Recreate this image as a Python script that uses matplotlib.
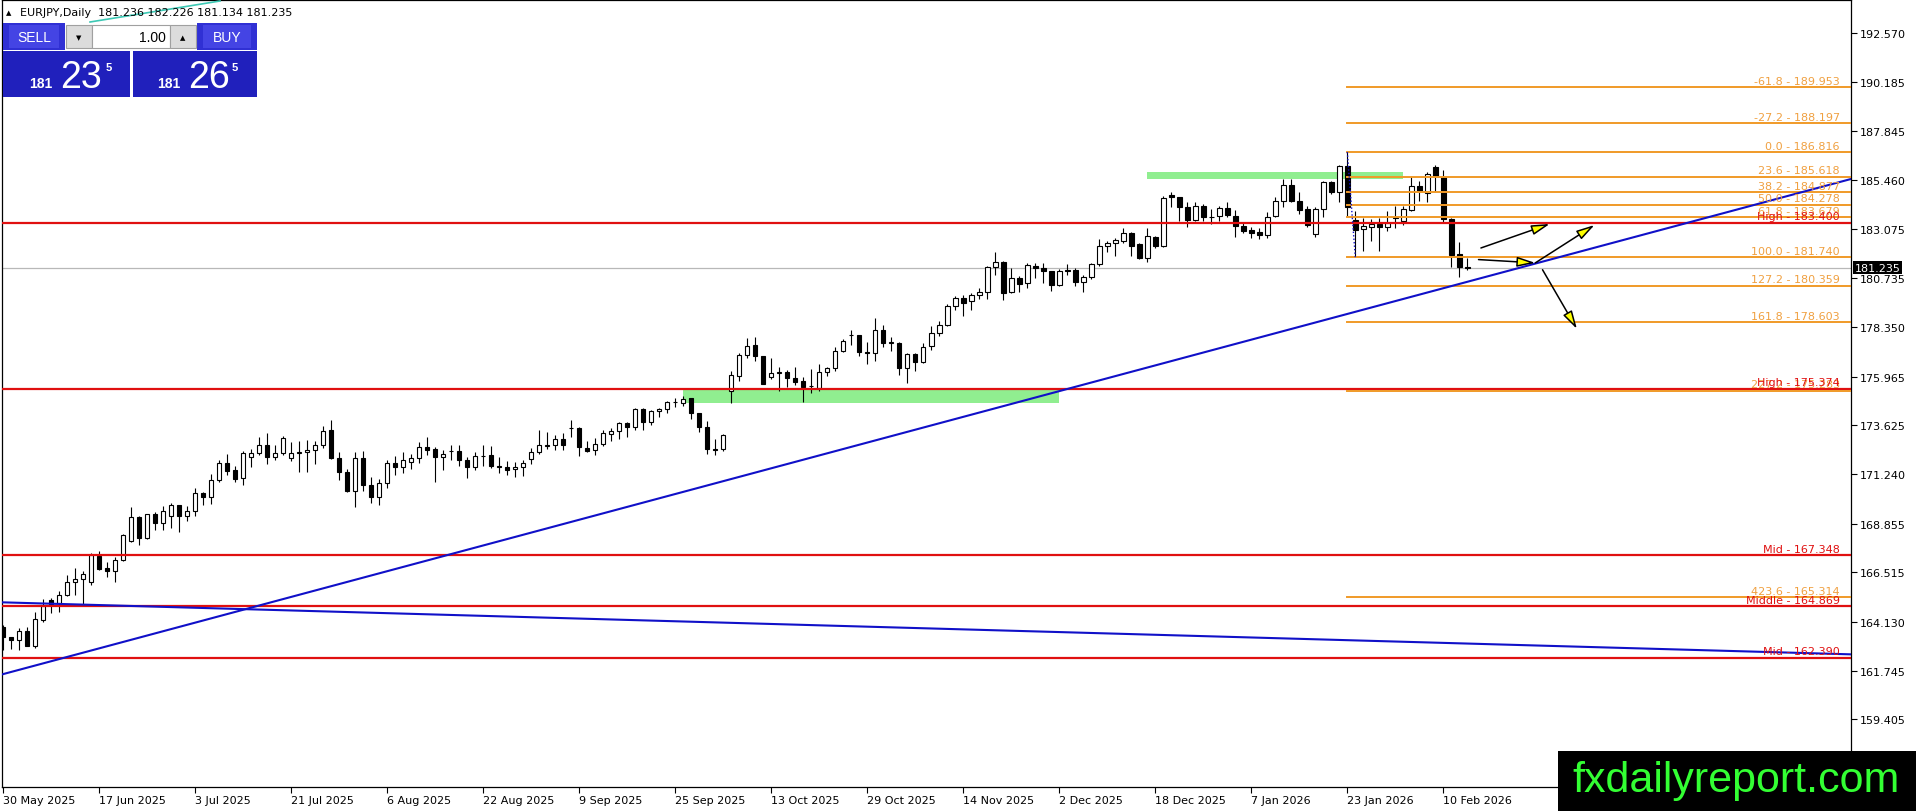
import matplotlib
matplotlib.use("Agg")
import matplotlib.pyplot as plt
import matplotlib.transforms as mtransforms
from matplotlib.patches import Rectangle

# EURJPY daily bars, 30 May 2025 .. 13 Feb 2026
opens = [
    163.89, 163.37, 163.23, 163.69, 162.97, 164.23, 165.19, 165.03, 165.43, 166.03, 166.19, 166.03,
    167.32, 166.72, 166.56, 167.11, 168.04, 169.20, 168.19, 169.33, 168.88, 169.22, 169.77, 169.25,
    169.46, 170.33, 170.14, 170.96, 171.79, 171.46, 171.05, 172.07, 172.26, 172.66, 172.07, 172.28,
    172.02, 172.28, 172.31, 172.42, 172.66, 173.39, 172.05, 171.34, 170.46, 172.04, 170.73, 170.14,
    170.83, 171.78, 171.59, 171.83, 172.04, 172.55, 172.47, 172.07, 172.39, 172.36, 171.94, 171.59,
    172.12, 172.18, 171.63, 171.60, 171.51, 171.60, 171.97, 172.31, 172.63, 172.65, 172.94, 173.47,
    173.49, 172.52, 172.41, 172.70, 173.18, 173.32, 173.74, 173.55, 174.39, 173.76, 174.31, 174.39,
    174.73, 174.69, 174.92, 174.19, 173.52, 172.47, 172.47, 175.29, 176.01, 177.01, 177.50, 176.95,
    175.93, 176.13, 176.18, 175.89, 175.74, 175.52, 175.42, 176.18, 176.37, 177.19, 177.96, 177.98,
    177.14, 177.11, 178.22, 177.61, 177.59, 176.37, 177.06, 176.66, 177.46, 178.06, 178.48, 179.40,
    179.75, 179.61, 179.91, 180.04, 181.25, 181.52, 180.04, 180.72, 180.47, 181.33, 181.20, 181.05,
    180.41, 181.13, 181.14, 180.52, 180.76, 181.41, 182.29, 182.41, 182.54, 182.89, 182.38, 181.68,
    182.73, 182.29, 184.74, 184.63, 184.15, 183.55, 184.23, 183.70, 183.71, 184.10, 183.71, 183.23,
    183.04, 182.94, 182.83, 183.74, 184.44, 185.23, 184.44, 184.07, 182.86, 184.07, 185.39, 184.87,
    186.16, 183.53, 183.10, 183.18, 183.34, 183.18, 183.63, 183.50, 184.03, 185.19, 184.84, 186.08,
    185.63, 183.58, 181.89, 181.236,
]
highs = [
    163.97, 163.40, 163.84, 163.86, 164.58, 165.22, 165.26, 165.61, 166.38, 166.71, 166.56, 167.45,
    167.56, 167.03, 167.24, 168.36, 169.69, 169.22, 169.35, 169.41, 169.73, 169.86, 169.78, 169.73,
    170.57, 170.38, 171.26, 171.96, 172.23, 171.67, 172.39, 172.47, 173.03, 173.23, 172.66, 173.08,
    172.79, 172.87, 172.91, 172.87, 173.60, 173.87, 172.31, 171.50, 172.34, 172.39, 171.10, 171.02,
    171.94, 172.15, 172.31, 172.23, 172.83, 173.04, 172.55, 172.42, 172.66, 172.66, 172.07, 172.34,
    172.66, 172.63, 172.07, 171.91, 171.83, 171.96, 172.52, 173.41, 173.28, 173.15, 173.23, 173.87,
    173.55, 172.84, 173.00, 173.41, 173.47, 173.79, 173.79, 174.44, 174.44, 174.36, 174.47, 174.77,
    174.92, 175.02, 174.95, 174.21, 173.81, 172.95, 173.18, 176.26, 177.09, 177.83, 177.87, 176.98,
    176.87, 176.45, 176.29, 176.45, 175.97, 176.34, 176.56, 176.42, 177.38, 177.79, 178.22, 178.00,
    177.62, 178.78, 178.46, 177.90, 177.62, 177.09, 177.09, 177.58, 178.40, 178.67, 179.48, 179.88,
    179.91, 180.01, 180.23, 181.33, 181.97, 181.57, 181.20, 180.81, 181.44, 181.46, 181.44, 181.09,
    181.17, 181.41, 181.20, 180.88, 181.44, 182.62, 182.54, 182.66, 183.13, 182.94, 182.41, 183.13,
    182.78, 184.71, 184.87, 184.65, 184.42, 184.39, 184.31, 184.07, 184.23, 184.42, 184.02, 183.42,
    183.18, 183.15, 183.90, 184.63, 185.52, 185.52, 184.90, 184.23, 184.15, 185.43, 185.43, 186.19,
    186.82, 183.99, 183.61, 183.58, 183.63, 183.99, 184.23, 184.23, 185.64, 185.43, 185.84, 186.19,
    185.95, 183.61, 182.46, 181.70,
]
lows = [
    162.78, 162.81, 162.78, 162.95, 162.84, 164.10, 164.55, 164.58, 165.39, 165.42, 164.95, 165.90,
    166.64, 166.27, 166.03, 167.08, 167.96, 167.85, 168.11, 168.57, 168.57, 168.67, 168.45, 169.01,
    169.25, 169.77, 169.83, 170.89, 171.22, 170.89, 170.73, 171.62, 172.20, 171.75, 171.96, 172.18,
    171.91, 171.34, 171.34, 171.75, 172.50, 171.99, 170.97, 170.38, 169.69, 170.46, 169.86, 169.78,
    170.57, 171.23, 171.30, 171.51, 171.80, 172.18, 170.89, 171.47, 171.96, 171.63, 171.05, 171.47,
    171.63, 171.54, 171.30, 171.23, 171.10, 171.18, 171.75, 172.23, 172.47, 172.42, 172.42, 173.04,
    172.12, 172.31, 172.18, 172.63, 172.84, 172.95, 173.04, 173.41, 173.41, 173.65, 174.00, 174.19,
    174.48, 174.53, 173.92, 173.28, 172.23, 172.20, 172.39, 174.69, 175.77, 176.85, 176.71, 175.59,
    175.85, 175.29, 175.45, 175.56, 174.76, 175.18, 175.29, 176.01, 176.26, 177.14, 177.50, 176.98,
    176.58, 176.74, 177.38, 177.19, 176.05, 175.64, 176.22, 176.61, 177.25, 177.95, 178.40, 179.19,
    178.91, 179.20, 179.72, 179.72, 180.89, 179.67, 180.01, 180.04, 180.23, 180.72, 180.47, 180.09,
    180.36, 180.88, 180.33, 180.04, 180.68, 181.33, 181.97, 181.81, 182.42, 181.78, 181.65, 181.52,
    182.17, 182.21, 184.18, 183.50, 183.21, 183.50, 183.50, 183.34, 183.50, 183.70, 182.73, 182.91,
    182.65, 182.62, 182.65, 183.70, 184.18, 184.39, 183.82, 183.18, 182.73, 183.66, 184.79, 184.39,
    183.71, 181.74, 182.05, 182.54, 182.02, 183.02, 183.13, 183.29, 183.99, 184.47, 184.39, 184.87,
    183.39, 181.25, 180.80, 181.13,
]
closes = [
    163.41, 163.23, 163.66, 162.97, 164.24, 164.87, 164.98, 165.43, 166.03, 166.17, 166.43, 167.35,
    166.67, 166.56, 167.12, 168.32, 169.17, 168.19, 169.33, 168.88, 169.46, 169.77, 169.25, 169.46,
    170.33, 170.14, 170.96, 171.79, 171.42, 171.02, 172.28, 172.28, 172.66, 172.07, 172.28, 173.00,
    172.28, 172.31, 172.42, 172.66, 173.32, 172.04, 171.34, 170.46, 172.04, 170.73, 170.14, 170.83,
    171.78, 171.59, 171.94, 172.04, 172.55, 172.44, 172.07, 172.23, 172.36, 171.94, 171.59, 172.12,
    172.15, 171.63, 171.60, 171.47, 171.60, 171.78, 172.31, 172.65, 172.65, 172.94, 172.68, 173.50,
    172.55, 172.39, 172.70, 173.23, 173.32, 173.74, 173.55, 174.39, 173.76, 174.31, 174.40, 174.73,
    174.76, 174.87, 174.19, 173.52, 172.47, 172.44, 173.15, 176.05, 177.01, 177.46, 176.95, 175.61,
    176.13, 176.17, 175.89, 175.72, 175.45, 175.49, 176.18, 176.37, 177.19, 177.67, 177.99, 177.14,
    177.09, 178.22, 177.61, 177.62, 176.37, 177.06, 176.66, 177.38, 178.06, 178.48, 179.40, 179.75,
    179.51, 179.91, 180.04, 181.25, 181.49, 179.99, 180.72, 180.44, 181.36, 181.20, 181.05, 180.41,
    181.09, 181.09, 180.52, 180.76, 181.41, 182.29, 182.41, 182.57, 182.89, 182.29, 181.68, 182.75,
    182.29, 184.58, 184.63, 184.15, 183.55, 184.23, 183.70, 183.68, 184.10, 183.78, 183.23, 183.02,
    182.91, 182.83, 183.66, 184.47, 185.23, 184.44, 184.03, 183.29, 184.07, 185.35, 184.87, 186.13,
    184.15, 183.07, 183.23, 183.34, 183.18, 183.39, 183.66, 184.07, 185.19, 184.95, 185.76, 185.68,
    183.58, 181.84, 181.25, 181.235,
]

date_labels = ["30 May 2025", "17 Jun 2025", "3 Jul 2025", "21 Jul 2025", "6 Aug 2025",
               "22 Aug 2025", "9 Sep 2025", "25 Sep 2025", "13 Oct 2025", "29 Oct 2025",
               "14 Nov 2025", "2 Dec 2025", "18 Dec 2025", "7 Jan 2026", "23 Jan 2026",
               "10 Feb 2026"]
date_step = 12

# 157.020 sits under the watermark box in the screenshot, so it is left out
price_ticks = [192.570, 190.185, 187.845, 185.460, 183.075, 180.735, 178.350, 175.965,
               173.625, 171.240, 168.855, 166.515, 164.130, 161.745, 159.405]

last_price = 181.235
header = "EURJPY,Daily  181.236 182.226 181.134 181.235"

# fibonacci levels drawn from the 186.816 high to the 181.740 low
fib_levels = [189.953, 188.197, 186.816, 185.618, 184.877, 184.278, 183.679,
              181.740, 180.359, 178.603, 175.283, 165.314]
fib_names = ["-61.8", "-27.2", "0.0", "23.6", "38.2", "50.0", "61.8",
             "100.0", "127.2", "161.8", "227.2", "423.6"]
fib_start = 168

red_levels = [183.400, 175.374, 167.348, 164.869, 162.390]
red_names = ["High", "High", "Mid", "Middle", "Mid"]

up_trend = [(2.7, 161.876), (184.0, 180.65)]
down_trend = [(0.0, 165.06), (230.8, 162.55)]

# zones: first bar, last bar, low, high
zones = [(85.0, 132.0, 174.69, 175.40), (142.9, 175.0, 185.51, 185.83)]

# arrows: bar/price of tail and head
arrows = [(184.7, 182.18, 193.3, 183.34),
          (191.5, 181.46, 198.9, 183.29),
          (184.4, 181.62, 191.5, 181.46),
          (192.4, 181.13, 196.7, 178.27)]

RED = "#e01010"
ORANGE = "#f09a28"
BLUE = "#1010c8"

W, H = 1916, 812
fig = plt.figure(figsize=(W / 100, H / 100), dpi=100)
ax = fig.add_axes([2 / W, (H - 788) / H, (1851 - 2) / W, (788 - 1) / H])
ax.set_xlim(-0.16, 230.96)
ax.set_ylim(156.14, 194.16)

n = len(opens)
xs = list(range(n))

# zones sit behind the candles
for x0, x1, lo, hi in zones:
    ax.add_patch(Rectangle((x0, lo), x1 - x0, hi - lo, fc="#90ee90", ec="none", zorder=1))

ax.axhline(last_price, color="#b8b8b8", lw=0.9, zorder=1.5)

ax.vlines(xs, lows, highs, color="black", lw=0.8, zorder=2)
bottoms = [min(o, c) for o, c in zip(opens, closes)]
heights = [max(abs(c - o), 0.005) for o, c in zip(opens, closes)]
fills = ["white" if c >= o else "black" for o, c in zip(opens, closes)]
ax.bar(xs, heights, bottom=bottoms, width=0.55, color=fills, edgecolor="black",
       linewidth=0.8, zorder=3)

# horizontal levels
for lvl in red_levels:
    ax.axhline(lvl, color=RED, lw=1.6, zorder=4)
x_right = ax.get_xlim()[1]
for lvl in fib_levels:
    ax.plot([fib_start, x_right], [lvl, lvl], color=ORANGE, lw=1.4, zorder=4)
ax.plot([fib_start, fib_start + 1], [fib_levels[2], fib_levels[7]], color=BLUE,
        lw=1, ls=(0, (1, 1.5)), zorder=4)


def extend(p0, p1):
    (xa, ya), (xb, yb) = p0, p1
    k = (yb - ya) / (xb - xa)
    lo, hi = ax.get_xlim()
    return [lo, hi], [ya + k * (lo - xa), ya + k * (hi - xa)]


for tl in (up_trend, down_trend):
    tx, ty = extend(*tl)
    ax.plot(tx, ty, color=BLUE, lw=1.5, zorder=4)

for x0, y0, x1, y1 in arrows:
    ax.annotate("", xy=(x1, y1), xytext=(x0, y0),
                arrowprops=dict(arrowstyle="-|>,head_length=1.1,head_width=0.3",
                                fc="yellow", ec="black", lw=1.1, shrinkA=0, shrinkB=0),
                zorder=5)

blend = mtransforms.blended_transform_factory(ax.transAxes, ax.transData)
lab_x = (1840 - 2) / (1851 - 2)
for lvl, name in zip(fib_levels, fib_names):
    ax.annotate(f"{name} - {lvl:.3f}", xy=(lab_x, lvl), xycoords=blend, xytext=(0, 1),
                textcoords="offset points", ha="right", va="bottom", fontsize=8,
                color="#f0a040", zorder=6)
for lvl, name in zip(red_levels, red_names):
    ax.annotate(f"{name} - {lvl:.3f}", xy=(lab_x, lvl), xycoords=blend, xytext=(0, 1),
                textcoords="offset points", ha="right", va="bottom", fontsize=8,
                color=RED, zorder=6)

# axes, MT4 style
ax.yaxis.tick_right()
ax.set_yticks(price_ticks)
ax.set_yticklabels([f"{v:.3f}" for v in price_ticks])
ax.set_xticks([i * date_step for i in range(len(date_labels))])
ax.set_xticklabels(date_labels, ha="left")
ax.tick_params(axis="both", length=4, width=0.8, labelsize=8, pad=2, colors="black")
for sp in ax.spines.values():
    sp.set_color("black")
    sp.set_linewidth(0.9)

ax.annotate(f"{last_price:.3f}", xy=(1.0, last_price), xycoords=blend, xytext=(2.5, 0),
            textcoords="offset points", ha="left", va="center", fontsize=8, color="white",
            bbox=dict(boxstyle="square,pad=0.15", fc="black", ec="none"),
            annotation_clip=False, zorder=7)

# overlay in pixel coordinates for the trading panel and watermark
ov = fig.add_axes([0, 0, 1, 1], zorder=10)
ov.set_xlim(0, W)
ov.set_ylim(H, 0)
ov.axis("off")
ov.patch.set_visible(False)

ov.text(6, 13, "\u25b2", fontsize=5, va="center", ha="left")
ov.text(20, 13, header, fontsize=8, va="center", ha="left")
ov.plot([90, 220], [23, 2], color="#3cc8b4", lw=1.2)

for px0, px1, hx0, hx1, label in [(3, 130, 3, 65, "SELL"), (133, 257, 197, 257, "BUY")]:
    ov.add_patch(Rectangle((px0, 52), px1 - px0, 46, fc="#2020bc", ec="none"))
    ov.add_patch(Rectangle((hx0, 24), hx1 - hx0, 27, fc="#3030d4", ec="none"))
    ov.add_patch(Rectangle((hx0 + 6, 26), hx1 - hx0 - 12, 23, fc="#4444e4", ec="none"))
    ov.text((hx0 + hx1) / 2, 38, label, color="white", fontsize=10, ha="center",
            va="center", family="Liberation Sans")
ov.add_patch(Rectangle((66, 26), 26, 23, fc="#dcdcdc", ec="#a0a0a0", lw=0.8))
ov.add_patch(Rectangle((92, 26), 78, 23, fc="white", ec="#a0a0a0", lw=0.8))
ov.add_patch(Rectangle((170, 26), 26, 23, fc="#dcdcdc", ec="#a0a0a0", lw=0.8))
ov.text(79, 38, "\u25bc", fontsize=5, ha="center", va="center")
ov.text(183, 38, "\u25b2", fontsize=5, ha="center", va="center")
ov.text(166, 38, "1.00", fontsize=10, ha="right", va="center", family="Liberation Sans")

for x_small, x_big, x_pip, big in [(29, 60, 106, "23"), (157, 188, 232, "26")]:
    ov.text(x_small, 88, "181", color="white", fontsize=10, fontweight="bold",
            family="Liberation Sans", va="baseline")
    ov.text(x_big, 88, big, color="white", fontsize=27, family="Liberation Sans",
            va="baseline")
    ov.text(x_pip, 71, "5", color="white", fontsize=8, fontweight="bold",
            family="Liberation Sans", va="baseline")

ov.add_patch(Rectangle((1558, 752), W - 1558, H - 752, fc="black", ec="none"))
wm = ov.text(1736, 781, "fxdailyreport.com", color="#33ff33", fontsize=27,
             family="Liberation Sans", ha="center", va="center")
fig.canvas.draw()
wm.set_fontsize(27 * 327 / wm.get_window_extent().width)

fig.savefig("out.png", dpi=100, facecolor="white")
